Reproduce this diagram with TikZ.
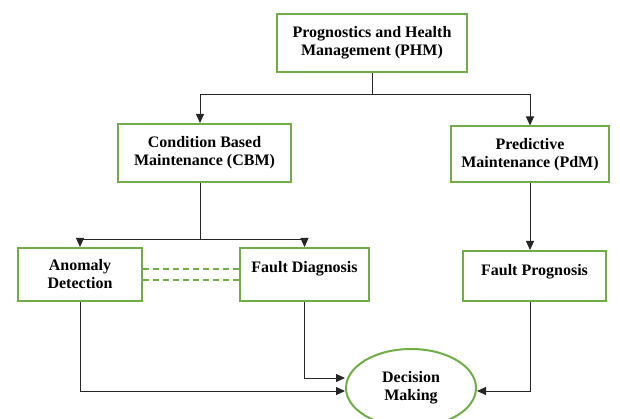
\documentclass[tikz,border=0pt]{standalone}
\usepackage{fontspec}
\setmainfont{Liberation Serif}
\usetikzlibrary{arrows.meta,shapes.geometric}
\definecolor{boxgreen}{RGB}{112,173,71}

\begin{document}
\begin{tikzpicture}[x=1pt,y=-1pt,
  blk/.style={draw=boxgreen,line width=2pt,fill=white,align=center,
    font=\fontsize{16}{18}\selectfont\bfseries,inner sep=0pt},
  arr/.style={-{Triangle[length=9pt,width=8pt]},line width=.9pt,black!85},
  ln/.style={line width=.9pt,black!85},
  dashln/.style={draw=boxgreen,line width=1.2pt,dash pattern=on 6pt off 4pt}]
 \useasboundingbox (0,0) rectangle (620,419);
 \node[blk,minimum width=190pt,minimum height=58pt] (phm) at (372,43)
   {Prognostics and Health\\Management (PHM)};
 \node[blk,minimum width=173pt,minimum height=58pt] (cbm) at (204.5,153)
   {Condition Based\\Maintenance (CBM)};
 \node[blk,minimum width=158pt,minimum height=56pt] (pdm) at (530,154.5)
   {Predictive\\Maintenance (PdM)};
 \node[blk,minimum width=124pt,minimum height=53pt] (ad) at (80,274.5)
   {Anomaly\\Detection};
 \node[blk,minimum width=129pt,minimum height=53pt,text depth=15pt] (fd) at (304.5,274.5)
   {Fault Diagnosis};
 \node[blk,minimum width=143pt,minimum height=50pt,text depth=13pt] (fp) at (534.5,276)
   {Fault Prognosis};
 \node[blk,ellipse,minimum width=130pt,minimum height=78pt] (dm) at (411,388)
   {Decision\\Making};
 \coordinate (split) at ([yshift=-21pt]phm.south);
 \coordinate (fork) at ([xshift=-4.5pt,yshift=-56pt]cbm.south);
 \draw[ln] (phm.south) -- (split);
 \draw[arr] (split) -| ([xshift=-4.5pt]cbm.north);
 \draw[arr] (split) -| (pdm.north);
 \draw[ln] ([xshift=-4.5pt]cbm.south) -- (fork);
 \draw[arr] (fork) -| (ad.north);
 \draw[arr] (fork) -| (fd.north);
 \draw[arr] (pdm.south) -- (pdm.south |- fp.north);
 \draw[dashln] ([yshift=5.5pt]ad.east) -- ([yshift=5.5pt]fd.west);
 \draw[dashln] ([yshift=-5.5pt]ad.east) -- ([yshift=-5.5pt]fd.west);
 \draw[arr] (ad.south) |- ([yshift=-3pt]dm.west);
 \draw[arr] (fd.south) |- ([yshift=10pt]dm.west);
 \draw[arr] (pdm.south |- fp.south) |- ([yshift=-3pt]dm.east);
\end{tikzpicture}
\end{document}
